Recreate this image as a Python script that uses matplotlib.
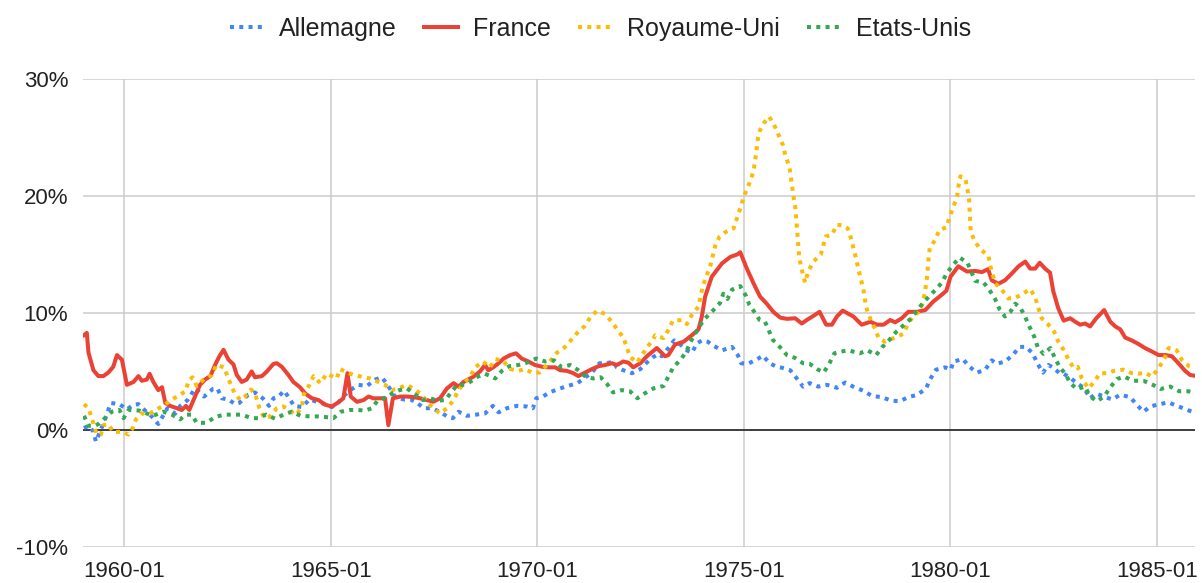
import matplotlib
matplotlib.use("Agg")
import matplotlib.pyplot as plt
from matplotlib.lines import Line2D
from matplotlib.ticker import FuncFormatter

plt.rcParams['font.family'] = ['Liberation Sans', 'DejaVu Sans']

# ---- data: (decimal year, inflation %) ----
allemagne = [(1959.02,0.15),(1959.13,0.35),(1959.25,-0.15),(1959.31,-1.0),(1959.41,-0.15),(1959.53,0.9),(1959.67,2.3),(1959.88,2.2),
(1960.06,1.75),(1960.22,2.15),(1960.34,2.2),(1960.50,1.65),(1960.66,1.15),(1960.82,0.5),
(1961.04,1.85),(1961.23,1.4),(1961.35,2.05),(1961.53,2.55),(1961.71,3.55),(1961.93,2.85),
(1962.14,3.5),(1962.25,3.55),(1962.36,2.7),(1962.52,2.6),(1962.68,2.2),(1962.78,2.3),
(1963.00,3.0),(1963.16,3.2),(1963.35,2.7),(1963.50,2.05),(1963.61,2.7),(1963.73,2.85),(1963.87,3.35),(1963.97,2.8),
(1964.11,2.05),(1964.30,1.95),(1964.48,2.6),(1964.66,2.4),(1964.86,2.2),
(1965.02,1.95),(1965.18,2.35),(1965.34,3.0),(1965.51,3.5),(1965.67,3.85),(1965.87,3.75),
(1966.07,4.3),(1966.23,4.5),(1966.35,3.95),(1966.55,2.85),(1966.76,2.6),(1966.92,2.6),
(1967.08,2.35),(1967.24,1.85),(1967.44,1.85),(1967.64,1.55),(1967.81,1.15),(1967.95,1.0),
(1968.09,1.55),(1968.29,1.2),(1968.52,1.3),(1968.73,1.4),(1968.92,2.05),
(1969.06,1.5),(1969.26,1.85),(1969.50,2.05),(1969.74,2.0),(1969.89,1.85),(1969.97,2.7),
(1970.13,2.85),(1970.29,3.2),(1970.51,3.5),(1970.73,3.75),(1970.97,4.0),
(1971.18,4.55),(1971.32,4.9),(1971.50,5.7),(1971.68,5.7),(1971.84,5.85),(1971.92,5.35),
(1972.08,5.1),(1972.29,4.85),(1972.49,5.2),(1972.63,5.7),(1972.79,6.2),(1972.93,6.5),
(1973.01,6.3),(1973.17,7.0),(1973.31,7.65),(1973.46,7.3),(1973.62,6.8),(1973.74,6.6),(1973.86,7.4),(1973.98,7.65),
(1974.12,7.55),(1974.26,7.2),(1974.47,6.8),(1974.71,7.1),(1974.85,6.4),(1974.93,5.7),
(1975.09,5.65),(1975.30,6.0),(1975.46,6.35),(1975.62,5.7),(1975.79,5.4),(1975.94,5.3),
(1976.12,5.1),(1976.28,4.4),(1976.43,3.7),(1976.59,4.0),(1976.80,3.7),
(1977.01,3.85),(1977.25,3.6),(1977.45,4.05),(1977.67,3.65),(1977.89,3.35),
(1978.10,2.9),(1978.34,2.8),(1978.56,2.5),(1978.77,2.45),(1978.98,2.8),
(1979.20,3.0),(1979.41,3.55),(1979.51,4.35),(1979.65,5.15),(1979.87,5.35),
(1980.01,5.15),(1980.07,5.85),(1980.30,6.05),(1980.46,5.4),(1980.64,4.9),(1980.84,5.15),
(1981.00,5.95),(1981.12,5.65),(1981.32,5.85),(1981.51,6.4),(1981.67,7.1),(1981.83,7.1),(1981.99,6.55),
(1982.11,5.65),(1982.24,4.9),(1982.37,5.55),(1982.48,5.35),(1982.64,4.85),(1982.74,4.8),(1982.88,4.5),
(1983.06,4.0),(1983.24,3.55),(1983.38,2.7),(1983.53,3.1),(1983.72,2.85),(1983.91,2.6),
(1984.11,3.0),(1984.35,2.8),(1984.51,2.15),(1984.67,1.55),(1984.84,2.0),
(1985.06,2.2),(1985.28,2.35),(1985.48,2.05),(1985.71,1.75),(1985.88,1.5)]

france = [(1959.02,8.1),(1959.09,8.3),(1959.13,6.6),(1959.25,5.1),(1959.37,4.6),(1959.49,4.6),(1959.61,4.9),(1959.73,5.4),(1959.82,6.4),(1959.94,6.0),
(1960.06,3.85),(1960.22,4.1),(1960.34,4.6),(1960.42,4.2),(1960.54,4.3),(1960.61,4.8),(1960.70,4.1),(1960.82,3.4),(1960.91,3.65),(1960.99,2.3),
(1961.11,2.05),(1961.27,1.85),(1961.39,1.7),(1961.49,2.05),(1961.57,1.7),(1961.71,2.85),(1961.83,3.85),(1961.95,4.3),
(1962.08,4.6),(1962.20,5.6),(1962.30,6.3),(1962.40,6.85),(1962.52,6.0),(1962.64,5.6),(1962.72,4.7),(1962.84,4.1),(1962.96,4.3),
(1963.08,5.0),(1963.16,4.5),(1963.33,4.6),(1963.45,5.0),(1963.61,5.65),(1963.69,5.7),(1963.81,5.4),(1963.97,4.7),
(1964.09,4.1),(1964.25,3.65),(1964.38,3.1),(1964.54,2.7),(1964.70,2.55),(1964.86,2.15),
(1965.02,2.0),(1965.18,2.35),(1965.30,2.7),(1965.40,4.85),(1965.48,2.85),(1965.63,2.4),(1965.79,2.55),(1965.91,2.85),
(1966.03,2.7),(1966.19,2.7),(1966.31,2.7),(1966.39,0.4),(1966.50,2.7),(1966.68,2.85),(1966.84,2.85),
(1967.00,2.8),(1967.16,2.7),(1967.32,2.55),(1967.48,2.4),(1967.64,2.7),(1967.81,3.55),(1967.97,4.0),
(1968.09,3.7),(1968.21,4.1),(1968.45,4.55),(1968.61,5.0),(1968.73,5.55),(1968.81,5.1),(1968.93,5.35),
(1969.06,5.7),(1969.18,6.1),(1969.34,6.4),(1969.48,6.55),(1969.62,6.1),(1969.78,5.85),(1969.94,5.55),
(1970.11,5.4),(1970.27,5.35),(1970.43,5.35),(1970.55,5.1),(1970.71,5.05),(1970.87,4.85),(1970.99,4.6),
(1971.15,4.9),(1971.32,5.2),(1971.48,5.45),(1971.64,5.55),(1971.80,5.7),(1971.92,5.55),
(1972.08,5.85),(1972.20,5.75),(1972.32,5.35),(1972.49,5.7),(1972.65,6.3),(1972.89,7.0),
(1973.09,6.3),(1973.17,6.4),(1973.33,7.3),(1973.54,7.55),(1973.74,8.1),(1973.90,8.6),(1973.98,9.7),
(1974.06,11.4),(1974.22,13.1),(1974.47,14.25),(1974.67,14.8),(1974.83,15.0),(1974.91,15.2),
(1975.07,13.8),(1975.23,12.55),(1975.39,11.4),(1975.55,10.8),(1975.71,10.1),(1975.88,9.6),
(1976.04,9.5),(1976.24,9.55),(1976.40,9.1),(1976.52,9.4),(1976.68,9.75),(1976.83,10.1),(1976.99,9.0),
(1977.13,9.0),(1977.25,9.7),(1977.39,10.2),(1977.65,9.7),(1977.85,9.0),
(1978.06,9.25),(1978.22,9.0),(1978.38,9.0),(1978.54,9.4),(1978.66,9.2),(1978.82,9.55),(1978.98,10.1),
(1979.19,10.1),(1979.39,10.25),(1979.59,11.0),(1979.75,11.45),(1979.90,11.9),
(1980.00,13.1),(1980.19,14.0),(1980.40,13.55),(1980.60,13.6),(1980.76,13.5),(1980.91,13.75),
(1981.00,12.8),(1981.16,12.5),(1981.32,12.8),(1981.49,13.4),(1981.65,14.0),(1981.81,14.4),(1981.93,13.8),
(1982.05,13.8),(1982.16,14.3),(1982.29,13.8),(1982.41,13.45),(1982.49,11.85),(1982.61,10.4),(1982.74,9.35),(1982.90,9.55),
(1983.02,9.25),(1983.14,9.0),(1983.26,9.1),(1983.38,8.85),(1983.53,9.55),(1983.72,10.25),(1983.87,9.25),(1983.99,8.85),
(1984.11,8.6),(1984.23,7.9),(1984.39,7.65),(1984.55,7.35),(1984.71,7.0),(1984.88,6.7),
(1985.04,6.4),(1985.21,6.4),(1985.36,6.3),(1985.52,5.7),(1985.68,5.05),(1985.80,4.7),(1985.88,4.65)]

royaume_uni = [(1959.02,2.2),(1959.13,1.85),(1959.21,1.0),(1959.33,-0.4),(1959.43,-0.4),(1959.49,0.4),(1959.61,0.5),(1959.73,-0.2),(1959.94,-0.15),
(1960.10,-0.4),(1960.20,0.15),(1960.28,0.9),(1960.42,1.4),(1960.62,1.4),(1960.78,1.75),(1960.94,2.05),
(1961.15,2.6),(1961.35,3.0),(1961.49,3.35),(1961.55,4.2),(1961.65,4.5),(1961.75,3.75),(1961.93,4.35),
(1962.12,4.7),(1962.22,5.55),(1962.42,5.35),(1962.50,4.5),(1962.66,3.2),(1962.80,2.55),(1962.92,2.85),
(1963.06,3.45),(1963.16,3.15),(1963.27,1.85),(1963.39,1.0),(1963.53,1.15),(1963.69,1.85),(1963.85,2.0),
(1964.01,1.6),(1964.17,1.3),(1964.30,2.05),(1964.34,3.0),(1964.48,3.85),(1964.58,4.6),(1964.74,4.0),(1964.90,4.8),
(1965.14,4.4),(1965.22,5.2),(1965.34,5.0),(1965.54,4.7),(1965.75,4.55),(1965.95,4.4),
(1966.15,4.1),(1966.31,3.85),(1966.47,3.4),(1966.63,3.55),(1966.84,3.85),
(1967.01,3.5),(1967.20,3.0),(1967.32,2.4),(1967.48,1.85),(1967.64,1.4),(1967.81,1.85),(1967.97,2.55),
(1968.09,3.4),(1968.25,4.1),(1968.37,4.55),(1968.49,5.35),(1968.68,5.85),(1968.85,5.35),(1968.98,6.05),
(1969.16,5.95),(1969.34,5.2),(1969.54,5.05),(1969.70,5.2),(1969.86,4.9),
(1970.05,4.9),(1970.23,5.55),(1970.47,6.6),(1970.67,7.1),(1970.83,7.75),(1970.99,8.4),
(1971.15,8.9),(1971.29,9.7),(1971.45,10.2),(1971.64,9.9),(1971.80,9.25),(1971.94,8.55),
(1972.08,7.9),(1972.17,7.0),(1972.24,6.25),(1972.41,5.75),(1972.55,6.5),(1972.66,7.1),(1972.79,7.65),(1972.85,8.1),
(1973.05,7.85),(1973.17,8.55),(1973.28,9.35),(1973.50,9.4),(1973.62,9.05),(1973.74,9.85),(1973.90,10.55),
(1974.00,12.25),(1974.10,13.25),(1974.18,13.95),(1974.30,15.7),(1974.41,16.55),(1974.54,16.9),(1974.75,17.25),(1974.83,18.1),(1974.91,18.95),(1974.99,19.9),
(1975.13,21.1),(1975.23,22.1),(1975.30,23.8),(1975.33,24.8),(1975.39,25.65),(1975.49,26.3),(1975.61,26.8),(1975.73,26.1),(1975.84,25.2),(1975.94,24.4),
(1976.00,23.5),(1976.10,22.5),(1976.16,20.95),(1976.20,19.95),(1976.24,19.1),(1976.26,18.25),(1976.28,17.4),(1976.34,14.7),(1976.40,13.7),(1976.48,12.6),(1976.56,13.6),(1976.68,14.4),(1976.86,15.0),(1976.98,16.55),
(1977.13,16.7),(1977.25,17.55),(1977.39,17.5),(1977.51,17.25),(1977.59,16.4),(1977.65,15.55),(1977.72,14.6),(1977.77,13.75),(1977.83,12.9),(1977.89,12.05),(1977.93,11.1),(1977.98,10.25),
(1978.07,9.4),(1978.18,8.6),(1978.26,7.85),(1978.42,7.55),(1978.62,7.85),(1978.85,8.2),(1978.98,9.1),
(1979.09,9.7),(1979.23,10.1),(1979.33,10.85),(1979.39,12.0),(1979.43,13.0),(1979.47,14.7),(1979.50,15.6),(1979.63,16.25),(1979.73,17.1),(1979.91,17.35),(1979.98,18.25),
(1980.07,19.1),(1980.16,19.95),(1980.19,20.8),(1980.24,21.7),(1980.36,21.5),(1980.41,20.6),(1980.45,19.7),(1980.47,18.4),(1980.49,16.95),(1980.58,16.2),(1980.72,15.45),(1980.92,14.9),(1980.96,14.1),
(1981.08,12.55),(1981.24,12.0),(1981.40,11.25),(1981.54,11.25),(1981.73,11.6),(1981.93,12.05),
(1982.05,11.35),(1982.13,10.4),(1982.21,9.55),(1982.37,9.0),(1982.51,8.4),(1982.61,7.55),(1982.74,6.85),(1982.86,6.0),(1982.98,5.3),
(1983.08,5.4),(1983.18,4.4),(1983.34,3.55),(1983.48,4.1),(1983.62,4.85),(1983.79,4.85),(1983.96,5.05),
(1984.19,5.15),(1984.39,4.85),(1984.55,4.8),(1984.71,4.9),(1984.88,4.55),
(1985.04,5.3),(1985.18,6.1),(1985.28,7.0),(1985.48,6.8),(1985.60,6.0),(1985.79,5.4),(1985.88,5.3)]

etats_unis = [(1959.02,1.2),(1959.13,0.35),(1959.29,0.35),(1959.37,0.5),(1959.53,1.0),(1959.69,1.55),(1959.88,1.7),(1959.98,1.0),
(1960.10,1.7),(1960.36,1.65),(1960.54,1.4),(1960.69,1.2),(1960.94,1.55),
(1961.15,1.3),(1961.35,0.9),(1961.49,1.3),(1961.63,1.3),(1961.75,0.6),(1961.98,0.6),
(1962.20,1.1),(1962.41,1.3),(1962.60,1.3),(1962.84,1.3),
(1963.08,1.0),(1963.24,1.0),(1963.43,1.3),(1963.65,0.95),(1963.85,1.3),
(1964.05,1.55),(1964.27,1.2),(1964.50,1.15),(1964.66,1.15),(1964.86,1.1),
(1965.06,1.0),(1965.24,1.55),(1965.45,1.7),(1965.64,1.7),(1965.83,1.65),(1965.99,1.85),
(1966.13,2.5),(1966.34,2.8),(1966.50,3.15),(1966.66,3.4),(1966.84,3.55),
(1967.01,3.1),(1967.23,2.55),(1967.40,2.7),(1967.58,2.5),(1967.77,2.55),(1967.93,3.3),
(1968.06,3.85),(1968.23,3.85),(1968.33,4.0),(1968.52,4.5),(1968.73,4.8),(1968.98,4.4),
(1969.14,5.05),(1969.32,5.45),(1969.54,5.55),(1969.74,5.75),(1969.97,6.1),
(1970.19,5.85),(1970.40,5.95),(1970.59,5.35),(1970.79,5.55),(1970.99,5.1),
(1971.18,4.5),(1971.36,4.4),(1971.53,4.5),(1971.68,3.95),(1971.83,3.2),
(1972.04,3.4),(1972.24,3.3),(1972.42,2.7),(1972.61,3.15),(1972.81,3.55),
(1973.05,3.75),(1973.28,5.3),(1973.46,6.0),(1973.58,6.55),(1973.74,7.75),
(1974.02,9.4),(1974.22,10.1),(1974.42,10.85),(1974.50,11.65),(1974.60,11.2),(1974.71,12.0),(1974.91,12.3),
(1975.05,11.45),(1975.13,10.7),(1975.25,10.1),(1975.38,9.4),(1975.51,9.25),(1975.70,7.7),(1975.88,7.05),
(1976.04,6.4),(1976.24,6.15),(1976.43,5.7),(1976.59,5.65),(1976.77,5.2),(1976.93,4.9),
(1977.07,5.7),(1977.19,6.55),(1977.35,6.7),(1977.53,6.8),(1977.80,6.55),(1977.99,6.8),
(1978.20,6.4),(1978.34,7.05),(1978.52,7.7),(1978.69,8.4),(1978.85,8.9),
(1979.02,9.45),(1979.19,10.2),(1979.33,10.85),(1979.49,11.45),(1979.67,12.1),(1979.79,12.6),(1979.91,13.4),
(1980.06,14.1),(1980.22,14.75),(1980.41,14.3),(1980.60,12.75),(1980.80,12.6),(1980.92,12.1),
(1981.08,11.2),(1981.19,10.3),(1981.32,9.7),(1981.45,10.1),(1981.57,10.8),(1981.70,10.4),(1981.81,9.65),(1981.91,8.85),
(1982.03,7.95),(1982.11,7.1),(1982.25,6.5),(1982.42,7.0),(1982.54,6.05),(1982.66,5.3),(1982.78,4.8),(1982.90,4.0),
(1983.06,3.5),(1983.26,3.7),(1983.37,2.9),(1983.54,2.45),(1983.72,2.85),(1983.87,3.65),
(1984.03,4.35),(1984.21,4.55),(1984.42,4.2),(1984.67,4.2),(1984.90,3.85),
(1985.09,3.5),(1985.32,3.7),(1985.54,3.3),(1985.76,3.3),(1985.88,3.2)]

series_names = ["Allemagne", "France", "Royaume-Uni", "Etats-Unis"]
x_tick_years = [1960, 1965, 1970, 1975, 1980, 1985]
x_tick_labels = ["1960-01", "1965-01", "1970-01", "1975-01", "1980-01", "1985-01"]
y_ticks = [-10, 0, 10, 20, 30]

# ---- styling ----
colors = ["#4285F4", "#EA4335", "#FBBC04", "#34A853"]
dotted = (0, (1, 1.3))

W, H = 1202, 583
fig = plt.figure(figsize=(W / 100, H / 100), dpi=100)
left, right, top, bottom = 82.7, 1195.0, 79.3, 546.7
ax = fig.add_axes([left / W, (H - bottom) / H, (right - left) / W, (bottom - top) / H])

data = [allemagne, france, royaume_uni, etats_unis]
handles = []
for name, pts, c in zip(series_names, data, colors):
    xs = [p[0] for p in pts]
    ys = [p[1] for p in pts]
    if name == "France":
        ax.plot(xs, ys, color=c, lw=2.9, solid_joinstyle='round', zorder=3)
        handles.append(Line2D([], [], color=c, lw=2.9))
    else:
        ax.plot(xs, ys, color=c, lw=2.9, linestyle=dotted, dash_capstyle='butt', zorder=3)
        handles.append(Line2D([], [], color=c, lw=2.9, linestyle=dotted))

ax.set_xlim(1958.99, 1985.92)
ax.set_ylim(-10, 30)
ax.set_xticks(x_tick_years)
ax.set_xticklabels(x_tick_labels)
ax.set_yticks(y_ticks)
ax.yaxis.set_major_formatter(FuncFormatter(lambda v, p: f"{int(v)}%"))
ax.grid(True, color="#cccccc", lw=1.1, zorder=0)
ax.axhline(0, color="#333333", lw=1.3, zorder=2)
for s in ax.spines.values():
    s.set_visible(False)
ax.tick_params(axis='both', length=0, labelsize=16, colors="#222222")
ax.tick_params(axis='y', pad=10.5)
ax.tick_params(axis='x', pad=10)

fig.legend(handles, series_names, loc='center', bbox_to_anchor=(0.4996, 0.951), ncol=4,
           frameon=False, fontsize=18, handlelength=1.36, handletextpad=0.6,
           columnspacing=1.1, labelcolor="#222222")

fig.savefig("out.png", dpi=100)
